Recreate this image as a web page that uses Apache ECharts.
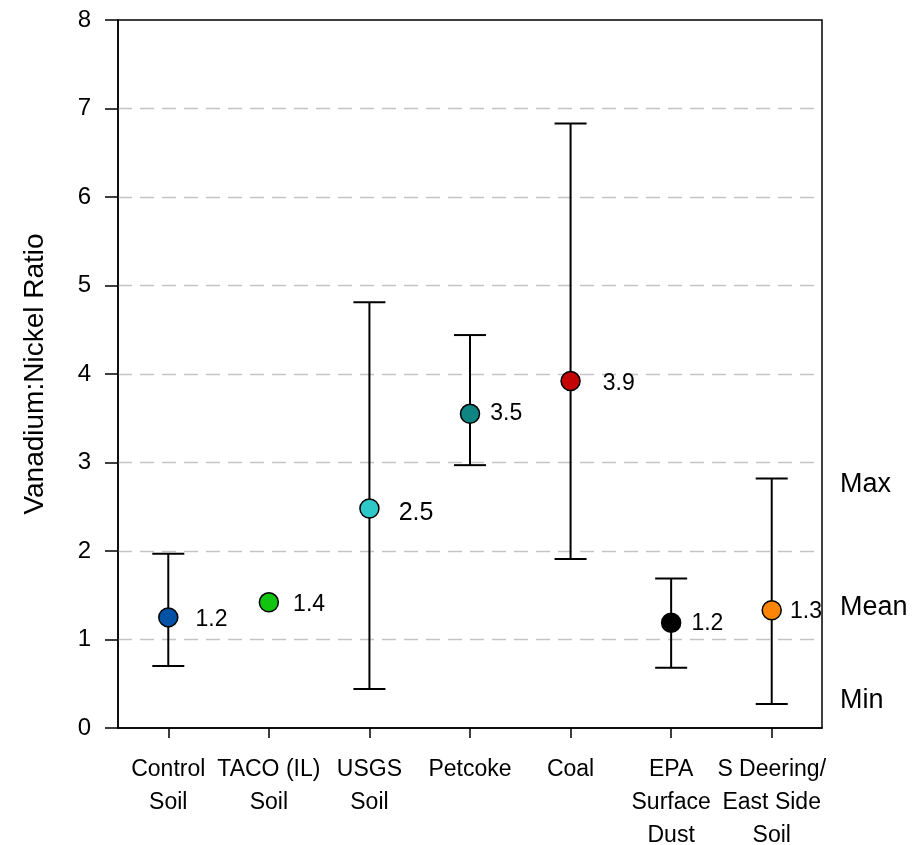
<!DOCTYPE html>
<html>
<head>
<meta charset="utf-8">
<script src="https://cdn.jsdelivr.net/npm/echarts@6/dist/echarts.min.js"></script>
<style>
html,body{margin:0;padding:0;background:#fff;overflow:hidden;}
#chart{width:922px;height:845px;}
</style>
</head>
<body>
<div id="chart"></div>
<script>
// ---- data ----
const categories = ["Control\nSoil", "TACO (IL)\nSoil", "USGS\nSoil", "Petcoke", "Coal", "EPA\nSurface\nDust", "S Deering/\nEast Side\nSoil"];
const meanValues = [1.25, 1.42, 2.48, 3.55, 3.92, 1.19, 1.33];
const minValues  = [0.70, null, 0.44, 2.97, 1.91, 0.68, 0.27];
const maxValues  = [1.97, null, 4.81, 4.44, 6.83, 1.69, 2.82];
const meanLabels = ["1.2", "1.4", "2.5", "3.5", "3.9", "1.2", "1.3"];
const pointColors = ["#0352a5", "#11c40f", "#2ec8c8", "#0f8583", "#c40404", "#000000", "#ff8508"];
const yTicks = [0, 1, 2, 3, 4, 5, 6, 7, 8];

const FONT = "'Liberation Sans', Arial, sans-serif";

// per-label style tweaks (presentation only)
const labelStyle = [
  {distance: 17, fontSize: 23, offset: [0, 2]},
  {distance: 14, fontSize: 23, offset: [0, 2]},
  {distance: 19, fontSize: 25, offset: [0, 5]},
  {distance: 10, fontSize: 23, offset: [0, 0]},
  {distance: 22, fontSize: 23, offset: [0, 3]},
  {distance: 10, fontSize: 23, offset: [0, 1]},
  {distance: 8,  fontSize: 23, offset: [0, 1]}
];

const scatterData = meanValues.map((v, i) => ({
  value: [i, v],
  itemStyle: {color: pointColors[i]},
  label: {
    show: true,
    position: 'right',
    distance: labelStyle[i].distance,
    fontSize: labelStyle[i].fontSize,
    offset: labelStyle[i].offset,
    formatter: meanLabels[i]
  }
}));

const errorData = [];
minValues.forEach((mn, i) => {
  if (mn !== null && maxValues[i] !== null) errorData.push([i, mn, maxValues[i]]);
});

const chart = echarts.init(document.getElementById('chart'), null, {renderer: 'canvas'});
chart.setOption({
  animation: false,
  backgroundColor: '#fff',
  textStyle: {fontFamily: FONT, color: '#000'},
  grid: {
    left: 118, right: 100, top: 20, bottom: 117,
    outerBoundsMode: 'none',
    containLabel: false,
    show: true, borderColor: '#000', borderWidth: 1.5, backgroundColor: 'transparent'
  },
  xAxis: {
    type: 'category',
    data: categories,
    boundaryGap: true,
    axisLine: {show: true, lineStyle: {color: '#000', width: 1.5}},
    axisTick: {show: true, alignWithLabel: true, inside: false, length: 10, lineStyle: {color: '#000', width: 1.5}},
    axisLabel: {
      interval: 0, margin: 25, fontSize: 23, lineHeight: 33,
      color: '#000', fontFamily: FONT, align: 'center'
    },
    splitLine: {show: false}
  },
  yAxis: {
    type: 'value',
    min: 0, max: 8, interval: 1,
    name: 'Vanadium:Nickel Ratio',
    nameLocation: 'middle',
    nameGap: 69,
    nameTextStyle: {fontSize: 28, color: '#000', fontFamily: FONT},
    axisLine: {show: true, lineStyle: {color: '#000', width: 1.5}},
    axisTick: {show: true, inside: false, length: 13, lineStyle: {color: '#000', width: 1.5}},
    axisLabel: {
      margin: 27, fontSize: 24, color: '#000', fontFamily: FONT,
      formatter: v => yTicks.includes(v) ? String(v) : ''
    },
    splitLine: {show: true, showMinLine: false, showMaxLine: false, lineStyle: {color: '#c4c4c4', width: 1.3, type: [14, 8]}}
  },
  series: [
    {
      type: 'custom',
      name: 'range',
      z: 2,
      data: errorData,
      encode: {x: 0, y: [1, 2]},
      renderItem: function (params, api) {
        const idx = api.value(0);
        const lo = api.coord([idx, api.value(1)]);
        const hi = api.coord([idx, api.value(2)]);
        const hw = 16;
        const style = {stroke: '#000', lineWidth: 2};
        return {
          type: 'group',
          children: [
            {type: 'line', shape: {x1: lo[0], y1: lo[1], x2: hi[0], y2: hi[1]}, style: style},
            {type: 'line', shape: {x1: lo[0] - hw, y1: lo[1], x2: lo[0] + hw, y2: lo[1]}, style: style},
            {type: 'line', shape: {x1: hi[0] - hw, y1: hi[1], x2: hi[0] + hw, y2: hi[1]}, style: style}
          ]
        };
      }
    },
    {
      type: 'scatter',
      name: 'mean',
      z: 5,
      symbol: 'circle',
      symbolSize: 19,
      itemStyle: {borderColor: '#000', borderWidth: 1.5, opacity: 1},
      label: {color: '#000', fontFamily: FONT},
      data: scatterData
    }
  ],
  graphic: [
    {type: 'text', left: 840, top: 471, style: {text: 'Max', font: "27px 'Liberation Sans', Arial, sans-serif", fill: '#000'}},
    {type: 'text', left: 840, top: 594, style: {text: 'Mean', font: "27px 'Liberation Sans', Arial, sans-serif", fill: '#000'}},
    {type: 'text', left: 840, top: 687, style: {text: 'Min', font: "27px 'Liberation Sans', Arial, sans-serif", fill: '#000'}}
  ]
});
</script>
</body>
</html>
